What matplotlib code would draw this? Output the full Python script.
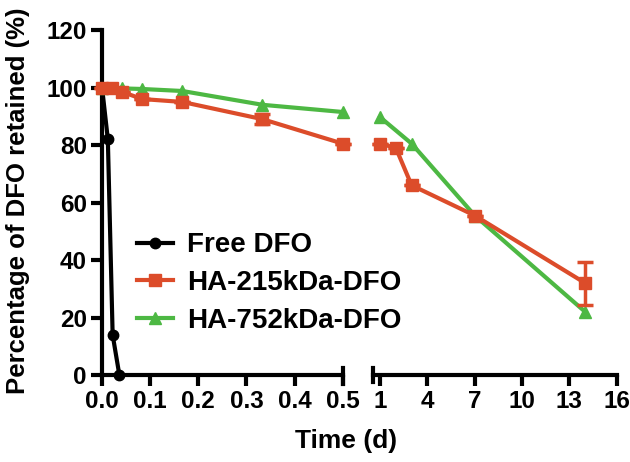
import numpy as np
import matplotlib
matplotlib.use("Agg")
import matplotlib.pyplot as plt
from matplotlib.lines import Line2D

plt.rcParams['font.family'] = ['Liberation Sans', 'DejaVu Sans']
plt.rcParams['font.weight'] = 'bold'

# data (time in days)
free_t = [0, 0.012, 0.022, 0.036]
free_y = [100, 82, 14, 0]

ha215_t = [0, 0.0208, 0.0417, 0.0833, 0.1667, 0.3333, 0.5, 1, 2, 3, 7, 14]
ha215_y = [100, 100, 98.5, 96, 95, 89, 80.5, 80.5, 79, 66, 55.5, 32]
ha215_err = [0, 0, 0, 0, 0, 1.8, 0, 0, 0, 0, 0, 7.5]

ha752_t = [0, 0.0417, 0.0833, 0.1667, 0.3333, 0.5, 1, 3, 7, 14]
ha752_y = [100, 99.7, 99.5, 98.8, 94, 91.5, 89.7, 80.5, 55.5, 22]

left_ticks = [0.0, 0.1, 0.2, 0.3, 0.4, 0.5]
right_ticks = [1, 4, 7, 10, 13, 16]
y_ticks = [0, 20, 40, 60, 80, 100, 120]

red = '#DC4C2A'
green = '#4DB843'
black = '#000000'
lw = 3.0

fig = plt.figure(figsize=(6.3, 4.62), dpi=100)
axL = fig.add_axes([0.162, 0.188, 0.382, 0.747])
axR = fig.add_axes([0.592, 0.188, 0.387, 0.747])


def split(t, y, e, lo, hi):
    idx = [i for i, v in enumerate(t) if lo <= v <= hi]
    return [t[i] for i in idx], [y[i] for i in idx], [e[i] for i in idx]


for ax, lo, hi in [(axL, 0, 0.5), (axR, 0.9, 20)]:
    t, y, _ = split(free_t, free_y, [0] * len(free_t), lo, hi)
    if t:
        ax.plot(t, y, color=black, lw=lw, marker='o', ms=7.5, clip_on=False, zorder=2.6)
    t, y, e = split(ha752_t, ha752_y, [0] * len(ha752_t), lo, hi)
    ax.plot(t, y, color=green, lw=lw, marker='^', ms=9, clip_on=False, zorder=3)
    t, y, e = split(ha215_t, ha215_y, ha215_err, lo, hi)
    ax.errorbar(t, y, yerr=e, color=red, lw=lw, marker='s', ms=9, capsize=6,
                capthick=2.5, elinewidth=2.5, clip_on=False, zorder=4)

for ax in (axL, axR):
    ax.set_ylim(0, 120)
    for s in ['top', 'right']:
        ax.spines[s].set_visible(False)
    ax.spines['bottom'].set_linewidth(3)
    ax.spines['left'].set_linewidth(3)
    ax.tick_params(width=3, length=8, labelsize=17.5, pad=3)

axL.set_xlim(0, 0.5)
axL.set_xticks(left_ticks)
axL.set_xticklabels(['%.1f' % v for v in left_ticks])
axL.set_yticks(y_ticks)

axR.set_xlim(0.55, 16)
axR.set_xticks(right_ticks)
axR.spines['left'].set_visible(False)
axR.set_yticks([])

# break caps
axL.plot([1, 1], [-0.025, 0.02], transform=axL.transAxes, color=black, lw=3, clip_on=False)
axR.plot([0, 0], [-0.02, 0.02], transform=axR.transAxes, color=black, lw=3, clip_on=False)

axL.set_ylabel('Percentage of DFO retained (%)', fontsize=18.5, fontweight='bold')
axL.yaxis.set_label_coords(-0.30, 0.505)
fig.text(0.55, 0.02, 'Time (d)', ha='center', va='bottom', fontsize=19, fontweight='bold')

handles = [Line2D([], [], color=black, lw=lw, marker='o', ms=7.5),
           Line2D([], [], color=red, lw=lw, marker='s', ms=9),
           Line2D([], [], color=green, lw=lw, marker='^', ms=9)]
labels = ['Free DFO', 'HA-215kDa-DFO', 'HA-752kDa-DFO']
fig.legend(handles, labels, loc='upper left', bbox_to_anchor=(0.217, 0.497),
           frameon=False, fontsize=20, handlelength=1.3, handletextpad=0.5,
           labelspacing=0.42, borderaxespad=0, borderpad=0)

fig.savefig('out.png', dpi=100)
